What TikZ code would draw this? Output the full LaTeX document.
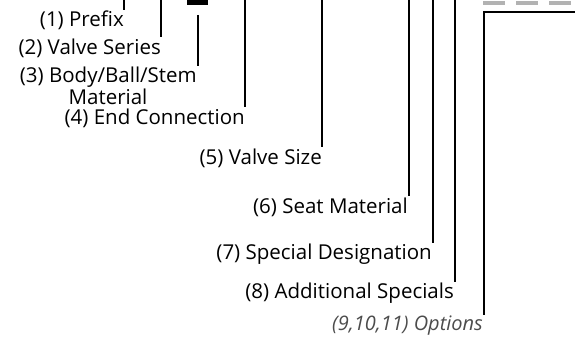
\documentclass[tikz,border=0pt]{standalone}
\usepackage{fontspec}
\setmainfont{Open Sans}
\tikzset{
  lbl/.style={anchor=east, inner sep=1pt, font=\fontsize{20.5}{21}\selectfont},
  lead/.style={line width=1.3pt},
}
\begin{document}
\begin{tikzpicture}[x=1pt, y=-1pt]
  \useasboundingbox (0,0) rectangle (575,339);

  % code positions along the top
  \coordinate (t1) at (124,0);
  \coordinate (t2) at (161,0);
  \coordinate (t3) at (198,15);
  \coordinate (t4) at (245,0);
  \coordinate (t5) at (322,0);
  \coordinate (t6) at (409,0);
  \coordinate (t7) at (433,0);
  \coordinate (t8) at (455,0);
  \coordinate (t9) at (484,12);
  \coordinate (t9e) at (575,12);

  % code marks
  \draw[line width=5pt] (187,2.5) -- (208,2.5);
  \draw[line width=4pt, gray!60, dash pattern=on 22pt off 11pt] (483,3) -- (575,3);

  % labels
  \node[lbl] (l1) at (125,20) {(1) Prefix};
  \node[lbl] (l2) at (162,48) {(2) Valve Series};
  \node[lbl] (l3) at (198,77) {(3) Body/Ball/Stem};
  \node[lbl, anchor=center] (l3b) at (108,97) {Material};
  \node[lbl] (l4) at (246,118) {(4) End Connection};
  \node[lbl] (l5) at (323,158) {(5) Valve Size};
  \node[lbl] (l6) at (409,207) {(6) Seat Material};
  \node[lbl] (l7) at (433,254) {(7) Special Designation};
  \node[lbl] (l8) at (455,293) {(8) Additional Specials};
  \node[lbl, text=black!70, font=\fontsize{20}{21}\selectfont\itshape] (l9) at (484,326) {(9,10,11) Options};

  % leaders
  \draw[lead] (t1) -- (t1 |- 0,10);
  \draw[lead] (t2) -- (t2 |- l2.north);
  \draw[lead] (t3) -- (t3 |- l3.north);
  \draw[lead] (t4) -- (t4 |- l4.north);
  \draw[lead] (t5) -- (t5 |- l5.north);
  \draw[lead] (t6) -- (t6 |- l6.north);
  \draw[lead] (t7) -- (t7 |- l7.north);
  \draw[lead] (t8) -- (t8 |- l8.north);
  \draw[lead] (t9e) -- (t9) -- (t9 |- l9.north);
\end{tikzpicture}
\end{document}
